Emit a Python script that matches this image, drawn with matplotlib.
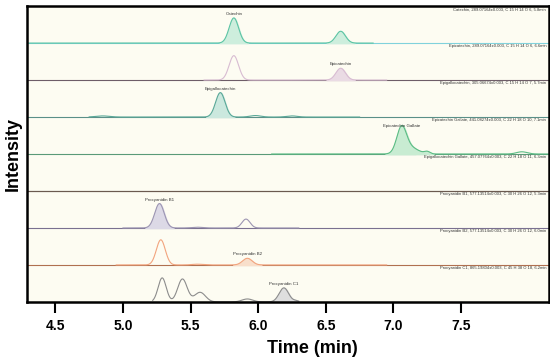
"""
Stacked extracted-ion chromatograms of catechins and procyanidins.
"""
import numpy as np
import matplotlib.pyplot as plt

plt.rcParams['font.family'] = ['Liberation Sans', 'DejaVu Sans']

# compound info (top to bottom)
names = ['Catechin', 'Epicatechin', 'Epigallocatechin', 'Epicatechin Gallate',
         'Epigallocatechin Gallate', 'Procyanidin B1', 'Procyanidin B2',
         'Procyanidin C1']
info = ['Catechin, 289.07164\u00b10.003, C 15 H 14 O 6, 5.8min',
        'Epicatechin, 289.07164\u00b10.003, C 15 H 14 O 6, 6.6min',
        'Epigallocatechin, 305.06674\u00b10.003, C 15 H 14 O 7, 5.7min',
        'Epicatechin Gallate, 441.08274\u00b10.003, C 22 H 18 O 10, 7.1min',
        'Epigallocatechin Gallate, 457.07764\u00b10.003, C 22 H 18 O 11, 6.3min',
        'Procyanidin B1, 577.13514\u00b10.003, C 30 H 26 O 12, 5.3min',
        'Procyanidin B2, 577.13514\u00b10.003, C 30 H 26 O 12, 6.0min',
        'Procyanidin C1, 865.19804\u00b10.003, C 45 H 38 O 18, 6.2min']

# peaks: (retention time, height as fraction of strip, width)
peaks = [
    [(5.82, 0.68, 0.035), (6.61, 0.32, 0.035)],
    [(5.82, 0.66, 0.035), (6.61, 0.32, 0.035)],
    [(5.72, 0.66, 0.035), (5.98, 0.04, 0.04), (6.25, 0.03, 0.04), (4.85, 0.03, 0.05)],
    [(7.06, 0.66, 0.035), (7.12, 0.18, 0.06), (7.25, 0.06, 0.02), (7.95, 0.06, 0.04)],
    [],
    [(5.27, 0.66, 0.035), (5.91, 0.24, 0.03), (5.55, 0.02, 0.04)],
    [(5.28, 0.68, 0.033), (5.92, 0.18, 0.035), (5.55, 0.02, 0.04)],
    [(5.29, 0.65, 0.03), (5.44, 0.62, 0.035), (5.57, 0.26, 0.04),
     (5.92, 0.08, 0.04), (6.19, 0.38, 0.035), (6.28, 0.03, 0.02)],
]
# which peak gets filled and labelled
label_peak = [0, 1, 0, 0, None, 0, 1, 4]
fill_peaks = [[0, 1], [1], [0], [0, 1], [], [0], [1], [4]]
trace_range = [(4.29, 6.85), (5.6, 6.95), (4.75, 6.75), (6.1, 8.15),
               (4.29, 8.15), (5.0, 6.3), (4.95, 6.95), (5.22, 6.3)]

line_colors = ['#5cc4a4', '#d8bcd2', '#5aa898', '#5bbc84', '#6b5a50',
               '#9c95b2', '#f2a47e', '#8c8c8c']
fill_colors = ['#cdeedd', '#eadbe4', '#cbe8de', '#c8ecd2', '#ffffff',
               '#dcd9e6', '#f8dfcb', '#dedede']
base_colors = ['#80d2dc', '#6e5d68', '#5a8f88', '#5a9a78', '#6b5a50',
               '#7a7090', '#b07050', '#888888']

fig = plt.figure(figsize=(5.5, 3.59), dpi=100)
ax = fig.add_axes([0.049, 0.159, 0.949, 0.824])
ax.set_facecolor('#fdfcf2')

n = len(names)
for i in range(n):
    base = n - 1 - i
    ax.axhline(base, color=base_colors[i], lw=0.8, zorder=2)
    lo, hi = trace_range[i]
    t = np.linspace(lo, hi, 800)
    y = np.zeros_like(t)
    for rt, h, w in peaks[i]:
        y += h * np.exp(-0.5 * ((t - rt) / w) ** 2)
    ax.plot(t, base + y, color=line_colors[i], lw=0.8, zorder=3)
    for k in fill_peaks[i]:
        rt, h, w = peaks[i][k]
        sel = np.abs(t - rt) < 3 * w
        ax.fill_between(t[sel], base, base + y[sel], color=fill_colors[i],
                        zorder=2.5)
    if label_peak[i] is not None:
        rt, h, w = peaks[i][label_peak[i]]
        ax.text(rt, base + h + 0.05, names[i], fontsize=3.2, ha='center',
                va='bottom', color='#333333')
    ax.text(8.13, base + 0.97, info[i], fontsize=3, ha='right', va='top',
            color='#333333')

ax.set_xlim(4.29, 8.15)
ax.set_ylim(0, n)
ax.set_yticks([])
ax.set_xticks([4.5, 5.0, 5.5, 6.0, 6.5, 7.0, 7.5])
ax.set_xticklabels(['4.5', '5.0', '5.5', '6.0', '6.5', '7.0', '7.5'],
                   fontsize=10, fontweight='bold')
ax.tick_params(axis='x', direction='out', length=8, width=1.5, pad=4)
for s in ax.spines.values():
    s.set_linewidth(1.8)
    s.set_zorder(5)
ax.set_xlabel('Time (min)', fontsize=13, fontweight='bold', labelpad=6)
ax.xaxis.set_label_coords(0.546, -0.13)
ax.set_ylabel('Intensity', fontsize=13, fontweight='bold', labelpad=4)

fig.savefig('out.png', dpi=100)
